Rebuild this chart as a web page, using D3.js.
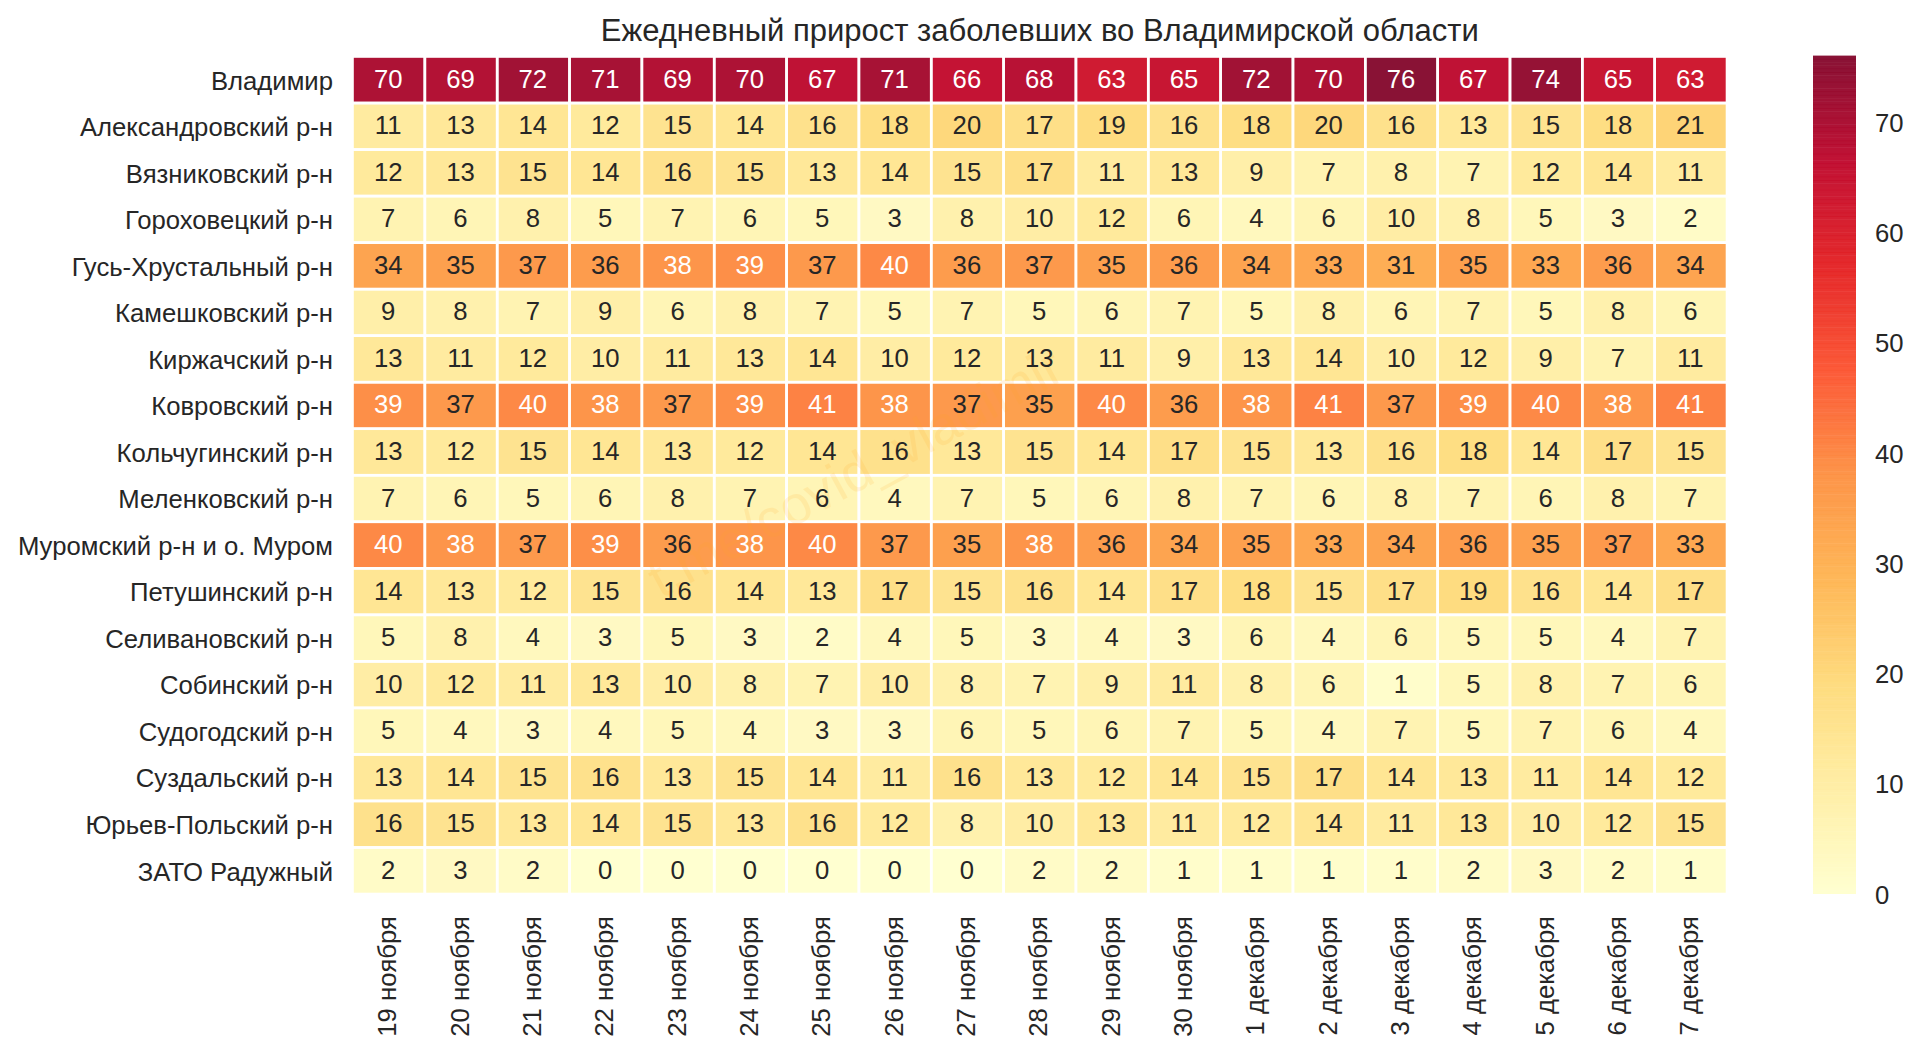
<!DOCTYPE html>
<html><head><meta charset="utf-8">
<script src="https://cdn.jsdelivr.net/npm/d3@7"></script>
<style>html,body{margin:0;padding:0;background:#fff}svg{display:block}text{font-family:"Liberation Sans",Arial,sans-serif;fill:#262626}</style>
</head><body><svg id="c" width="1920" height="1052"></svg>
<script>
const titleText = "Ежедневный прирост заболевших во Владимирской области";
const watermarkText = "t.me/covid_vladimir";
const districts = ["Владимир","Александровский р-н","Вязниковский р-н","Гороховецкий р-н","Гусь-Хрустальный р-н","Камешковский р-н","Киржачский р-н","Ковровский р-н","Кольчугинский р-н","Меленковский р-н","Муромский р-н и о. Муром","Петушинский р-н","Селивановский р-н","Собинский р-н","Судогодский р-н","Суздальский р-н","Юрьев-Польский р-н","ЗАТО Радужный"];
const dates = ["19 ноября","20 ноября","21 ноября","22 ноября","23 ноября","24 ноября","25 ноября","26 ноября","27 ноября","28 ноября","29 ноября","30 ноября","1 декабря","2 декабря","3 декабря","4 декабря","5 декабря","6 декабря","7 декабря"];
const vladimir = [70,69,72,71,69,70,67,71,66,68,63,65,72,70,76,67,74,65,63];
const aleksandrov = [11,13,14,12,15,14,16,18,20,17,19,16,18,20,16,13,15,18,21];
const vyazniki = [12,13,15,14,16,15,13,14,15,17,11,13,9,7,8,7,12,14,11];
const gorokhovets = [7,6,8,5,7,6,5,3,8,10,12,6,4,6,10,8,5,3,2];
const gus = [34,35,37,36,38,39,37,40,36,37,35,36,34,33,31,35,33,36,34];
const kameshkovo = [9,8,7,9,6,8,7,5,7,5,6,7,5,8,6,7,5,8,6];
const kirzhach = [13,11,12,10,11,13,14,10,12,13,11,9,13,14,10,12,9,7,11];
const kovrov = [39,37,40,38,37,39,41,38,37,35,40,36,38,41,37,39,40,38,41];
const kolchugino = [13,12,15,14,13,12,14,16,13,15,14,17,15,13,16,18,14,17,15];
const melenki = [7,6,5,6,8,7,6,4,7,5,6,8,7,6,8,7,6,8,7];
const murom = [40,38,37,39,36,38,40,37,35,38,36,34,35,33,34,36,35,37,33];
const petushki = [14,13,12,15,16,14,13,17,15,16,14,17,18,15,17,19,16,14,17];
const selivanovo = [5,8,4,3,5,3,2,4,5,3,4,3,6,4,6,5,5,4,7];
const sobinka = [10,12,11,13,10,8,7,10,8,7,9,11,8,6,1,5,8,7,6];
const sudogda = [5,4,3,4,5,4,3,3,6,5,6,7,5,4,7,5,7,6,4];
const suzdal = [13,14,15,16,13,15,14,11,16,13,12,14,15,17,14,13,11,14,12];
const yuryev = [16,15,13,14,15,13,16,12,8,10,13,11,12,14,11,13,10,12,15];
const raduzhny = [2,3,2,0,0,0,0,0,0,2,2,1,1,1,1,2,3,2,1];
const rows = [vladimir,aleksandrov,vyazniki,gorokhovets,gus,kameshkovo,kirzhach,kovrov,kolchugino,melenki,murom,petushki,selivanovo,sobinka,sudogda,suzdal,yuryev,raduzhny];
const colorTicks = [0,10,20,30,40,50,60,70];
const cmapStops = ["#ffffcc","#ffeda0","#fed976","#feb24c","#fd8d3c","#fc4e2a","#e31a1c","#bd0026","#800026"];
const vMin = 0, vMax = 76, whiteFrom = 38;

const L=352.5,R=1727,T=56.5,B=894, CL=1813,CR=1856,CT=56,CB=894;
const svg = d3.select("#c");
const x = d3.scaleBand().domain(dates).range([L,R]);
const y = d3.scaleBand().domain(districts).range([T,B]);
const color = d3.scaleLinear()
  .domain(cmapStops.map((_,i)=>vMin+(vMax-vMin)*i/(cmapStops.length-1)))
  .range(cmapStops).interpolate(d3.interpolateRgb);

svg.append("text").attr("x",(L+R)/2).attr("y",41).attr("text-anchor","middle")
  .style("font-size","31px").text(titleText);

const cells = rows.flatMap((r,i)=>r.map((v,j)=>({d:districts[i],t:dates[j],v})));
svg.append("g").selectAll("rect").data(cells).join("rect")
  .attr("x",c=>x(c.t)).attr("y",c=>y(c.d))
  .attr("width",x.bandwidth()).attr("height",y.bandwidth())
  .attr("fill",c=>color(c.v)).attr("fill-opacity",0.93);
svg.append("g").selectAll("rect").data(cells).join("rect")
  .attr("x",c=>x(c.t)).attr("y",c=>y(c.d))
  .attr("width",x.bandwidth()).attr("height",y.bandwidth())
  .attr("fill","none").attr("stroke","#fff").attr("stroke-width",2.6);

svg.append("text").attr("transform","translate(855,472) rotate(-28.5)").attr("text-anchor","middle")
  .attr("dominant-baseline","central").style("font-size","54px").style("fill","#ffa726").style("opacity",0.13)
  .text(watermarkText);

svg.append("g").selectAll("text").data(cells).join("text")
  .attr("x",c=>x(c.t)+x.bandwidth()/2-0.5).attr("y",c=>y(c.d)+y.bandwidth()/2-1)
  .attr("text-anchor","middle").attr("dominant-baseline","central")
  .style("font-size","25.7px").style("fill",c=>c.v>=whiteFrom?"#fff":"#262626")
  .text(c=>c.v);

const axisL = svg.append("g").attr("transform",`translate(${L},0)`)
  .call(d3.axisLeft(y).tickSize(0).tickPadding(19.5));
axisL.select(".domain").remove();
axisL.selectAll("text").style("font-size","25.7px").style("font-family",'"Liberation Sans"').attr("dy","0.38em");

const axisB = svg.append("g").attr("transform",`translate(0,${B})`)
  .call(d3.axisBottom(x).tickSize(0));
axisB.select(".domain").remove();
axisB.selectAll("text").style("font-size","25.7px").style("font-family",'"Liberation Sans"')
  .attr("text-anchor","end").attr("dy",0).attr("y",0)
  .attr("transform","translate(7.5,22) rotate(-90)");

const cb = d3.scaleLinear().domain([vMin,vMax]).range([CB,CT]);
const levels = d3.range(256).map(i=>vMin+(vMax-vMin)*i/255);
const stepH=(CB-CT)/256;
svg.append("g").selectAll("rect").data(levels).join("rect")
  .attr("x",CL).attr("width",CR-CL)
  .attr("y",(v,i)=>CB-(i+1)*stepH-0.4).attr("height",stepH+0.4)
  .attr("fill",v=>color(v)).attr("fill-opacity",0.93);
const axisC = svg.append("g").attr("transform",`translate(${CR},1)`)
  .call(d3.axisRight(cb).tickValues(colorTicks).tickSize(0).tickPadding(19));
axisC.select(".domain").remove();
axisC.selectAll("text").style("font-size","25.7px").style("font-family",'"Liberation Sans"');
</script></body></html>
